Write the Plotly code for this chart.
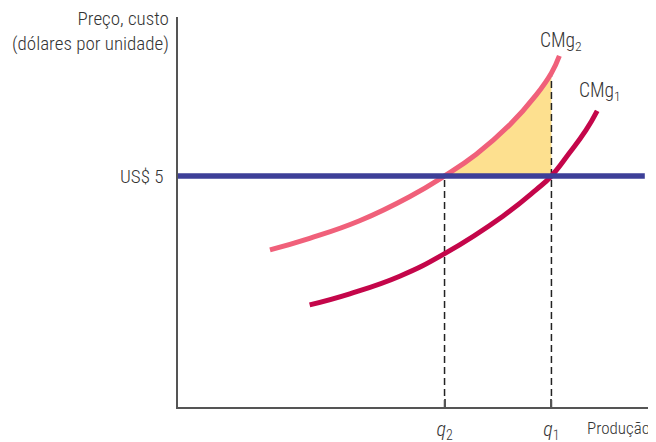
import plotly.graph_objects as go

# Data
cmg2_x = [1.97, 2.82, 3.89, 4.96, 5.71, 6.39, 7.10, 7.67, 8.00, 8.17]
cmg2_y = [3.40, 3.65, 4.03, 4.55, 5.00, 5.47, 6.10, 6.75, 7.23, 7.60]
cmg1_x = [2.82, 3.68, 4.75, 5.73, 6.96, 7.67, 8.00, 8.38, 8.74, 8.98]
cmg1_y = [2.21, 2.45, 2.83, 3.33, 4.13, 4.70, 5.00, 5.49, 5.99, 6.41]
price = 5.0
q2 = 5.71
q1 = 8.00
price_line_x = [0, 10.0]
x_tick_vals = [q2, q1]
x_tick_text = ["<i>q</i><sub>2</sub>", "<i>q</i><sub>1</sub>"]
y_tick_text = ["US$ 5"]

FONT = ("Noto Sans Condensed Light, Noto Sans Condensed, Roboto Condensed, "
        "Liberation Sans Narrow, Roboto, sans-serif")
PINK = "#f0607a"
CRIMSON = "#c4064a"
BLUE = "#3d3f98"
YELLOW = "#fde08f"
TXT = "#333333"

fig = go.Figure()

# Yellow area between CMg2 and price line, from q2 to q1
seg = [(x, y) for x, y in zip(cmg2_x, cmg2_y) if q2 <= x <= q1]
fig.add_trace(go.Scatter(x=[q2, q1], y=[price, price], mode="lines",
                         line=dict(width=0, color=YELLOW), hoverinfo="skip", showlegend=False))
fig.add_trace(go.Scatter(x=[p[0] for p in seg], y=[p[1] for p in seg], mode="lines",
                         fill="tonexty", fillcolor=YELLOW,
                         line=dict(width=0, color=YELLOW, shape="spline", smoothing=1.3),
                         hoverinfo="skip", showlegend=False))

# Dashed verticals
fig.add_trace(go.Scatter(x=[q2, q2], y=[0, price], mode="lines",
                         line=dict(color="#222222", width=1.5, dash="7px,4px"), showlegend=False))
fig.add_trace(go.Scatter(x=[q1, q1], y=[0, seg[-1][1]], mode="lines",
                         line=dict(color="#222222", width=1.5, dash="7px,4px"), showlegend=False))

# Curves
fig.add_trace(go.Scatter(x=cmg2_x, y=cmg2_y, mode="lines",
                         line=dict(color=PINK, width=5, shape="spline", smoothing=1.3),
                         showlegend=False))
fig.add_trace(go.Scatter(x=cmg1_x, y=cmg1_y, mode="lines",
                         line=dict(color=CRIMSON, width=5, shape="spline", smoothing=1.3),
                         showlegend=False))

# Price line
fig.add_trace(go.Scatter(x=price_line_x, y=[price, price], mode="lines",
                         line=dict(color=BLUE, width=5.5), showlegend=False))

# The page body has an 8px margin, so the figure is 8px smaller and margins shifted.
fig.update_layout(
    width=648, height=434,
    margin=dict(l=170, r=0, t=9, b=35),
    paper_bgcolor="white", plot_bgcolor="white",
    font=dict(family=FONT, size=19, color=TXT, weight=300),
    xaxis=dict(range=[0, 10.24], showline=True, linecolor="#555555", linewidth=1.5,
               showgrid=False, zeroline=False, tickvals=x_tick_vals, ticktext=x_tick_text,
               ticks="inside", ticklen=8, tickcolor="#555555", tickwidth=1.5,
               tickfont=dict(family=FONT, size=20, color=TXT, weight=300), ticklabelstandoff=3),
    yaxis=dict(range=[0, 8.44], showline=True, linecolor="#555555", linewidth=1.5,
               showgrid=False, zeroline=False, tickvals=[price], ticktext=y_tick_text,
               ticks="", tickfont=dict(family=FONT, size=19, color=TXT, weight=300),
               ticklabelstandoff=9),
    annotations=[
        dict(text="Preço, custo<br>(dólares por unidade)", xref="paper", yref="paper",
             x=-0.014, y=0.965, xanchor="right", yanchor="middle", align="right",
             showarrow=False, font=dict(family=FONT, size=19, color=TXT, weight=300)),
        dict(text="CMg<sub>2</sub>", x=8.2, y=7.90, showarrow=False,
             font=dict(family=FONT, size=19.5, color=TXT, weight=300)),
        dict(text="CMg<sub>1</sub>", x=9.04, y=6.82, showarrow=False,
             font=dict(family=FONT, size=19.5, color=TXT, weight=300)),
        dict(text="Produção", xref="paper", yref="paper", x=0.851, y=-0.054,
             xanchor="left", yanchor="middle", showarrow=False,
             font=dict(family=FONT, size=17, color=TXT, weight=300)),
    ],
)

fig.write_html("out.html")
